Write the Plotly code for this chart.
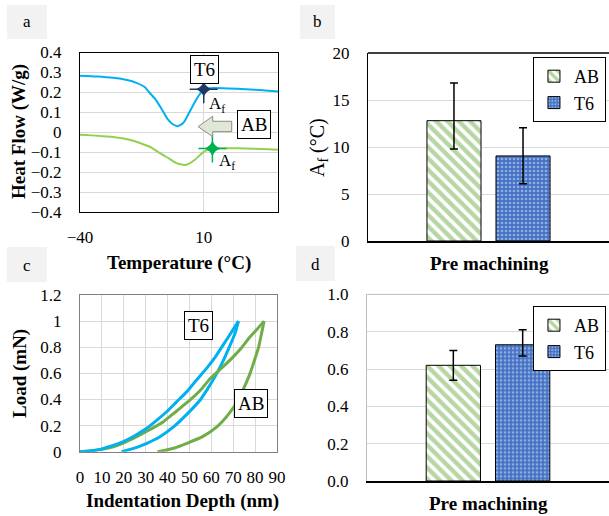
import plotly.graph_objects as go

W, H = 609, 516
SERIF = "Liberation Serif"

# ---------------- data ----------------
# (a) DSC heat flow curves
dsc_t6_x = [-40, -33, -26.6, -21, -17.2, -14, -11.8, -9.5, -7.7, -6, -4.4, -2.5, -0.5, 1.7, 3, 4.4, 7, 9, 10, 11.5, 14, 20, 27, 34, 40]
dsc_t6_y = [0.284, 0.280, 0.273, 0.262, 0.248, 0.228, 0.197, 0.165, 0.130, 0.095, 0.063, 0.040, 0.030, 0.046, 0.072, 0.105, 0.164, 0.203, 0.214, 0.220, 0.222, 0.220, 0.216, 0.211, 0.205]
dsc_ab_x = [-40, -33, -26.6, -20, -15.8, -11, -7.7, -4, -1, 1, 3, 4.8, 6.4, 8, 9.7, 11.5, 13.5, 20, 27, 34, 40]
dsc_ab_y = [-0.012, -0.017, -0.024, -0.038, -0.054, -0.078, -0.105, -0.132, -0.155, -0.162, -0.163, -0.152, -0.138, -0.120, -0.101, -0.088, -0.081, -0.080, -0.081, -0.084, -0.088]
af_t6 = (10, 0.216)
af_ab = (13.5, -0.081)

# (b) Af temperature
groups = ["AB", "T6"]
category = ["Pre machining"]
af_mean = [12.8, 9.05]
af_err_plus = [4.0, 3.0]
af_err_minus = [3.0, 2.95]

# (c) nanoindentation load-depth
t6_load_x = [0, 4, 9.1, 14, 19.8, 25, 30.5, 35, 39.6, 44, 48.8, 53, 57.9, 62, 65.5, 69, 72.4]
t6_load_y = [0, 0.005, 0.018, 0.042, 0.077, 0.122, 0.179, 0.24, 0.306, 0.38, 0.46, 0.545, 0.64, 0.73, 0.82, 0.91, 1.0]
t6_unload_x = [72.4, 70.9, 68.3, 65.5, 62.5, 59, 54.9, 49, 42.7, 36.5, 30.5, 26.5, 22.9, 19]
t6_unload_y = [1.0, 0.91, 0.805, 0.70, 0.60, 0.50, 0.396, 0.29, 0.19, 0.115, 0.064, 0.037, 0.018, 0]
ab_load_x = [0, 5, 10, 15.2, 20, 25.9, 32, 38.1, 44, 50.3, 55, 59.5, 65, 70.1, 74, 77.7, 81, 84.1]
ab_load_y = [0, 0.006, 0.018, 0.038, 0.068, 0.115, 0.17, 0.23, 0.31, 0.396, 0.47, 0.56, 0.645, 0.728, 0.80, 0.88, 0.94, 1.0]
ab_unload_x = [84.1, 83, 81.6, 79.7, 77.7, 75.2, 72.4, 68, 62.5, 56, 48.8, 42.7, 38.5, 35.4]
ab_unload_y = [1.0, 0.91, 0.80, 0.70, 0.60, 0.50, 0.40, 0.29, 0.19, 0.115, 0.064, 0.026, 0.009, 0]

# (d) second bar chart
d_mean = [0.62, 0.73]
d_err_plus = [0.08, 0.08]
d_err_minus = [0.08, 0.06]

# ---------------- helpers ----------------
def px(x):
    return x / W

def py(y):
    return 1 - y / H

BLUE_LINE = "#00b0f0"
GREEN_A = "#92d050"
GREEN_C = "#70ad47"
BAR_GREEN = "#70ad47"
BAR_BLUE = "#4472c4"
GRID = "#d9d9d9"

fig = go.Figure()

# panel a
fig.add_trace(go.Scatter(x=dsc_t6_x, y=dsc_t6_y, mode="lines", line=dict(color=BLUE_LINE, width=2, shape="spline", smoothing=0.6),
                         xaxis="x", yaxis="y", showlegend=False))
fig.add_trace(go.Scatter(x=dsc_ab_x, y=dsc_ab_y, mode="lines", line=dict(color=GREEN_A, width=2, shape="spline", smoothing=0.6),
                         xaxis="x", yaxis="y", showlegend=False))
for pt, col in [(af_t6, "#203864"), (af_ab, "#00b050")]:
    fig.add_trace(go.Scatter(x=[pt[0]], y=[pt[1]], mode="markers",
                             marker=dict(symbol="cross-thin", size=20, line=dict(color=col, width=1.5)),
                             xaxis="x", yaxis="y", showlegend=False))
    fig.add_trace(go.Scatter(x=[pt[0]], y=[pt[1]], mode="markers",
                             marker=dict(symbol="star-diamond", size=12, color=col),
                             xaxis="x", yaxis="y", showlegend=False))

# panel b
ab_pattern = dict(shape="\\", fgcolor=BAR_GREEN, bgcolor="white", size=8, solidity=0.55)
t6_pattern = dict(shape=".", fgcolor="#dfe8f7", bgcolor=BAR_BLUE, size=4, solidity=0.35)
patterns = [ab_pattern, t6_pattern]
for i, g in enumerate(groups):
    fig.add_trace(go.Bar(x=category, y=[af_mean[i]], name=g, xaxis="x2", yaxis="y2",
                         marker=dict(color="white" if i == 0 else BAR_BLUE, pattern=patterns[i],
                                     line=dict(color="black", width=1)),
                         error_y=dict(type="data", symmetric=False, array=[af_err_plus[i]],
                                      arrayminus=[af_err_minus[i]], color="black", thickness=1.5, width=4),
                         legend="legend", showlegend=True))

# panel c
for xs, ys, col in [(t6_unload_x, t6_unload_y, BLUE_LINE),
                    (ab_load_x, ab_load_y, GREEN_C), (ab_unload_x, ab_unload_y, GREEN_C),
                    (t6_load_x, t6_load_y, BLUE_LINE)]:
    fig.add_trace(go.Scatter(x=xs, y=ys, mode="lines", line=dict(color=col, width=3, shape="spline", smoothing=0.6),
                             xaxis="x3", yaxis="y3", showlegend=False))

# panel d
for i, g in enumerate(groups):
    fig.add_trace(go.Bar(x=category, y=[d_mean[i]], name=g, xaxis="x4", yaxis="y4",
                         marker=dict(color="white" if i == 0 else BAR_BLUE, pattern=patterns[i],
                                     line=dict(color="black", width=1)),
                         error_y=dict(type="data", symmetric=False, array=[d_err_plus[i]],
                                      arrayminus=[d_err_minus[i]], color="black", thickness=1.5, width=4),
                         legend="legend2", showlegend=True))

tickfont = dict(family=SERIF, size=17, color="black")
common = dict(automargin=False, zeroline=False)

fig.update_layout(
    width=W, height=H, margin=dict(l=0, r=0, t=0, b=0, pad=0, autoexpand=False),
    paper_bgcolor="white", plot_bgcolor="white",
    barmode="group", bargap=0.427, bargroupgap=0.217,
    font=dict(family=SERIF, color="black"),
    xaxis=dict(domain=[px(80), px(278)], anchor="y", range=[-40, 40], tick0=-40, dtick=50,
               showgrid=True, gridcolor=GRID, showline=True, linecolor="black", mirror=True,
               ticks="", tickfont=tickfont, ticklabelstandoff=10, tickangle=0, **common),
    yaxis=dict(domain=[py(212), py(52.5)], anchor="x", range=[-0.4, 0.4], dtick=0.1,
               showgrid=True, gridcolor=GRID, showline=True, linecolor="black", mirror=True,
               ticks="", tickfont=tickfont, ticklabelstandoff=14, tickformat=".1~f", **common),
    xaxis2=dict(domain=[px(368), 1.0], anchor="y2", range=[-0.5, 0.5], showticklabels=False,
                showgrid=False, showline=True, linecolor="black", linewidth=1.5, ticks="", **common),
    yaxis2=dict(domain=[py(241), py(53)], anchor="x2", range=[0, 20], dtick=5,
                showgrid=True, gridcolor=GRID, showline=True, linecolor="black",
                ticks="", tickfont=tickfont, ticklabelstandoff=14, **common),
    xaxis3=dict(domain=[px(80), px(277)], anchor="y3", range=[0, 90], dtick=10,
                showgrid=True, gridcolor=GRID, showline=True, linecolor="#7f7f7f", mirror=True,
                ticks="", tickfont=tickfont, ticklabelstandoff=10, tickangle=0, **common),
    yaxis3=dict(domain=[py(451.7), py(295)], anchor="x3", range=[0, 1.2], dtick=0.2,
                showgrid=True, gridcolor=GRID, showline=True, linecolor="#7f7f7f", mirror=True,
                ticks="", tickfont=tickfont, ticklabelstandoff=14, tickformat="~g", **common),
    xaxis4=dict(domain=[px(367), 1.0], anchor="y4", range=[-0.5, 0.5], showticklabels=False,
                showgrid=False, showline=True, linecolor="black", linewidth=1.5, ticks="", **common),
    yaxis4=dict(domain=[py(481), py(294.4)], anchor="x4", range=[0, 1.0], dtick=0.2,
                showgrid=True, gridcolor=GRID, showline=True, linecolor="#bfbfbf",
                ticks="", tickfont=tickfont, ticklabelstandoff=14, tickformat=".1f", **common),
    legend=dict(x=0.995, xanchor="right", y=py(57), yanchor="top", bgcolor="white",
                bordercolor="black", borderwidth=1, font=dict(family=SERIF, size=18),
                tracegroupgap=0, itemwidth=30),
    legend2=dict(x=0.995, xanchor="right", y=py(306), yanchor="top", bgcolor="white",
                 bordercolor="black", borderwidth=1, font=dict(family=SERIF, size=18),
                 tracegroupgap=0, itemwidth=30),
)

shapes = []
# panel label boxes
for (x0, y0, x1, y1) in [(7, 5, 47, 39), (300, 5, 335, 39), (7, 247, 47, 282), (296, 246, 335, 281)]:
    shapes.append(dict(type="rect", xref="paper", yref="paper", x0=px(x0), x1=px(x1), y0=py(y1), y1=py(y0),
                       fillcolor="#f2f2f2", line=dict(width=0), layer="below"))
# top borders for b and d
shapes.append(dict(type="line", xref="paper", yref="paper", x0=px(368), x1=1.0, y0=py(53), y1=py(53),
                   line=dict(color="black", width=1.5)))
shapes.append(dict(type="line", xref="paper", yref="paper", x0=px(367), x1=1.0, y0=py(294.4), y1=py(294.4),
                   line=dict(color="#bfbfbf", width=1)))
# block arrow in panel a
shapes.append(dict(type="path", xref="x", yref="y",
                   path="M 7.7,0.028 L 13.6,0.080 L 13.6,0.055 L 21.3,0.055 L 21.3,0.003 L 13.6,0.003 L 13.6,-0.022 Z",
                   fillcolor="#dfe8d5", line=dict(color="#8c8c8c", width=1)))
fig.update_layout(shapes=shapes)

C = dict(xanchor="center", yanchor="middle", showarrow=False)
ann = []
# panel letters
for t, (cx, cy) in zip(["a", "b", "c", "d"], [(27, 22), (317, 22), (27, 265), (315, 264)]):
    ann.append(dict(text=t, x=px(cx), y=py(cy), xref="paper", yref="paper",
                    font=dict(family=SERIF, size=17, color="black"), **C))
# boxed labels
box = dict(bgcolor="white", bordercolor="black", borderwidth=1, borderpad=3,
           font=dict(family=SERIF, size=19, color="black"), **C)
ann.append(dict(text="T6", x=10.4, y=0.317, xref="x", yref="y", **box))
ann.append(dict(text="AB", x=30.4, y=0.038, xref="x", yref="y", **box))
ann.append(dict(text="T6", x=54.3, y=0.966, xref="x3", yref="y3", **box))
ann.append(dict(text="AB", x=78.1, y=0.369, xref="x3", yref="y3", **box))
# Af labels
ann.append(dict(text="A<sub>f</sub>", x=15.5, y=0.135, xref="x", yref="y",
                font=dict(family=SERIF, size=17, color="black"), **C))
ann.append(dict(text="A<sub>f</sub>", x=19.5, y=-0.148, xref="x", yref="y",
                font=dict(family=SERIF, size=17, color="black"), **C))
# axis titles
bold = dict(family=SERIF, size=19, color="black")
ann.append(dict(text="<b>Heat Flow (W/g)</b>", x=px(19), y=py(132), xref="paper", yref="paper",
                textangle=-90, font=bold, **C))
ann.append(dict(text="<b>Temperature (°C)</b>", x=px(179), y=py(263), xref="paper", yref="paper",
                font=bold, **C))
ann.append(dict(text="A<sub>f</sub> (°C)", x=px(318), y=py(148), xref="paper", yref="paper",
                textangle=-90, font=dict(family=SERIF, size=20, color="black"), **C))
ann.append(dict(text="<b>Pre machining</b>", x=px(489), y=py(263), xref="paper", yref="paper",
                font=bold, **C))
ann.append(dict(text="<b>Load (mN)</b>", x=px(20), y=py(374), xref="paper", yref="paper",
                textangle=-90, font=bold, **C))
ann.append(dict(text="<b>Indentation Depth (nm)</b>", x=px(182), y=py(501), xref="paper", yref="paper",
                font=bold, **C))
ann.append(dict(text="<b>Pre machining</b>", x=px(488), y=py(503), xref="paper", yref="paper",
                font=bold, **C))
fig.update_layout(annotations=ann)

fig.write_html("out.html", config={"displayModeBar": False},
               post_script="document.body.style.margin='0';document.body.style.padding='0';")
